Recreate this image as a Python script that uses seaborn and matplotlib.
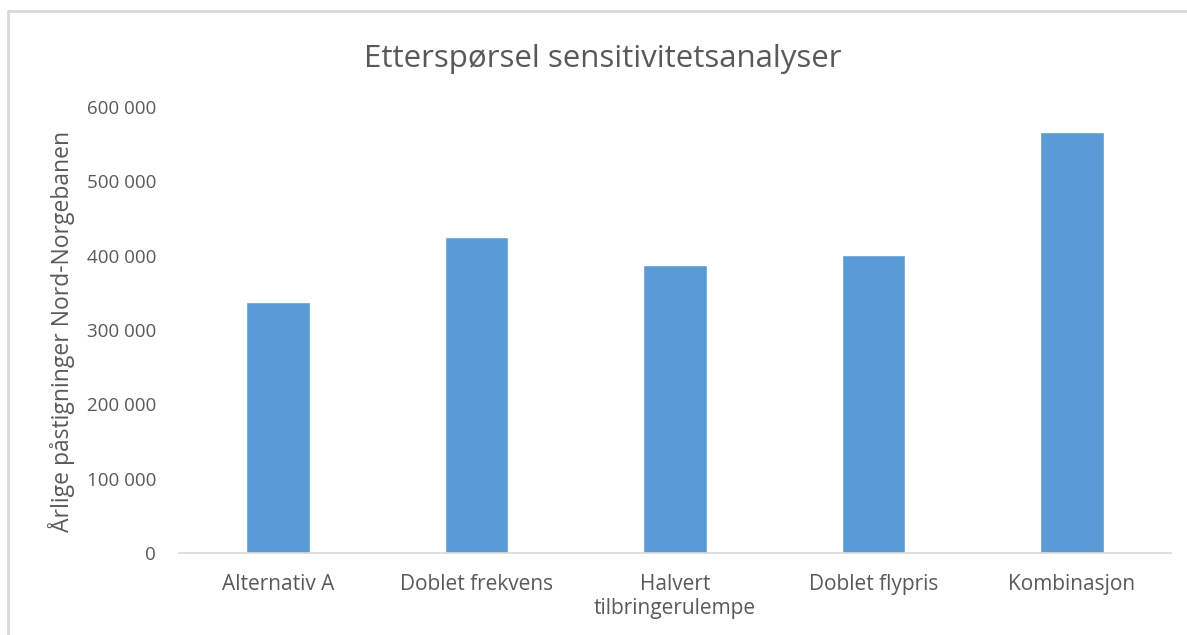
import matplotlib
matplotlib.use("Agg")
import matplotlib.pyplot as plt
import seaborn as sns
import pandas as pd
from matplotlib.lines import Line2D
from matplotlib.ticker import FuncFormatter

categories = ["Alternativ A", "Doblet frekvens", "Halvert\ntilbringerulempe", "Doblet flypris", "Kombinasjon"]
values = [338000, 425000, 387000, 401000, 567000]
yticks = [0, 100000, 200000, 300000, 400000, 500000, 600000]

sns.set_theme(style="white")
plt.rcParams['font.family'] = ['Open Sans', 'DejaVu Sans']

df = pd.DataFrame({"cat": categories, "val": values})

fig = plt.figure(figsize=(11.87, 6.35), dpi=100)
ax = fig.add_axes([179/1187, 1-553/635, (1171-179)/1187, (553-107)/635])

sns.barplot(data=df, x="cat", y="val", color="#5B9BD5", width=0.32, saturation=1, ax=ax)

ax.set_ylim(0, 600000)
ax.set_xlim(-0.5, 4.5)
ax.set_yticks(yticks)
ax.yaxis.set_major_formatter(FuncFormatter(lambda v, p: f"{int(v):,}".replace(",", " ")))
for s in ["top", "right", "left"]:
    ax.spines[s].set_visible(False)
ax.spines["bottom"].set_color("#d9d9d9")
ax.spines["bottom"].set_linewidth(1.2)
ax.tick_params(axis="y", length=0, colors="#595959", labelsize=13.5, pad=16.5)
ax.tick_params(axis="x", length=0, colors="#595959", labelsize=15, pad=15)
ax.set_xlabel("")
ax.set_ylabel("Årlige påstigninger Nord-Norgebanen", color="#595959", fontsize=16.5)
ax.yaxis.set_label_coords((75-179)/992, 0.497)
ax.grid(False)

fig.text(603/1187, 1-67/635, "Etterspørsel sensitivitetsanalyser", ha="center", va="baseline",
         fontsize=22.5, color="#595959")

# chart frame
fig.add_artist(Line2D([8/1187, 1], [1-11/635, 1-11/635], color="#d9d9d9", lw=2, transform=fig.transFigure))
fig.add_artist(Line2D([8/1187, 8/1187], [0, 1-11/635], color="#d9d9d9", lw=2, transform=fig.transFigure))

fig.savefig("out.png", dpi=100, facecolor="white")
